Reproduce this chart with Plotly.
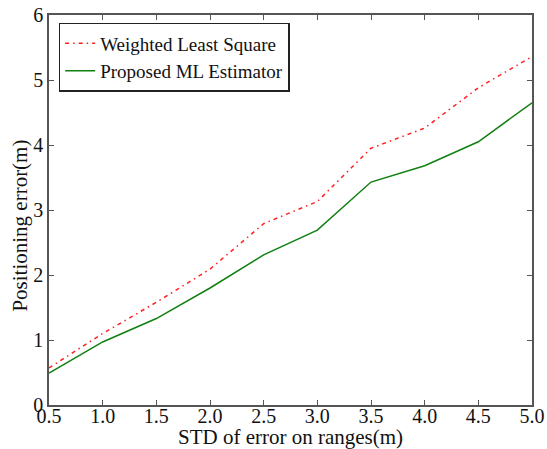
import plotly.graph_objects as go

std = [0.5, 1.0, 1.5, 2.0, 2.5, 3.0, 3.5, 4.0, 4.5, 5.0]
wls = [0.57, 1.10, 1.58, 2.09, 2.79, 3.13, 3.95, 4.26, 4.88, 5.36]
ml = [0.49, 0.97, 1.33, 1.80, 2.31, 2.69, 3.43, 3.68, 4.05, 4.65]
xticks = [0.5, 1.0, 1.5, 2.0, 2.5, 3.0, 3.5, 4.0, 4.5, 5.0]
xticklabels = ["0.5", "1.0", "1.5", "2.0", "2.5", "3.0", "3.5", "4.0", "4.5", "5.0"]
yticks = [0, 1, 2, 3, 4, 5, 6]
xtitle = "STD of error on ranges(m)"
ytitle = "Positioning error(m)"

font = "Liberation Serif, Times New Roman, serif"

fig = go.Figure()
fig.add_trace(go.Scatter(x=std, y=wls, mode="lines", name="Weighted Least Square",
                         line=dict(color="#ff2020", width=1.5, dash="4px,4px,1.5px,4px")))
fig.add_trace(go.Scatter(x=std, y=ml, mode="lines", name="Proposed ML Estimator",
                         line=dict(color="#108010", width=1.5)))

axis_common = dict(showgrid=False, zeroline=False, showline=True, linecolor="#555555",
                   linewidth=1.5, mirror="ticks", ticks="inside", ticklen=5,
                   tickcolor="#555555", automargin=False, ticklabeloverflow="allow",
                   tickfont=dict(family=font, size=20, color="#111111"))

fig.update_layout(
    width=547, height=449,
    margin=dict(l=49, r=15, t=15, b=44),
    paper_bgcolor="white", plot_bgcolor="white",
    font=dict(family=font, color="#111111"),
    showlegend=True,
    legend=dict(x=0.02, y=0.98, xanchor="left", yanchor="top",
                bgcolor="white", bordercolor="#222222", borderwidth=1.5,
                font=dict(family=font, size=19, color="#111111"),
                tracegroupgap=0, itemwidth=30),
    xaxis=dict(range=[0.5, 5.0], tickvals=xticks, ticktext=xticklabels,
               ticklabelstandoff=-8, **axis_common),
    yaxis=dict(range=[0, 6], tickvals=yticks, **axis_common),
    annotations=[
        dict(text=xtitle, xref="paper", yref="paper", x=0.5, y=-0.083,
             xanchor="center", yanchor="middle", showarrow=False,
             font=dict(family=font, size=21, color="#111111")),
        dict(text=ytitle, xref="paper", yref="paper", x=-0.06, y=0.46,
             xanchor="center", yanchor="middle", showarrow=False, textangle=-90,
             font=dict(family=font, size=21, color="#111111")),
    ],
)

fig.write_html("out.html", config={"displayModeBar": False},
               post_script="document.body.style.margin='0';")
